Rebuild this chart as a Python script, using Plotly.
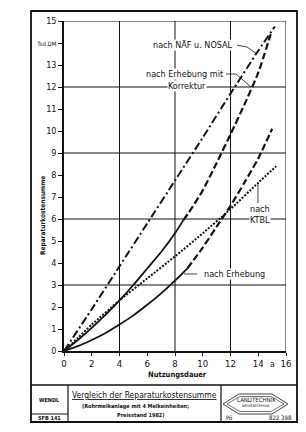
import plotly.graph_objects as go

# ---------------- data ----------------
nosal_x = [0, 2, 4, 6, 8, 10, 12, 14, 15.2]
nosal_y = [0, 1.9, 3.85, 5.8, 7.75, 9.7, 11.7, 13.65, 14.75]

korr_solid_x = [0, 1, 2, 3, 4, 5, 6, 7, 8, 8.6]
korr_solid_y = [0, 0.5, 1.05, 1.65, 2.3, 3.0, 3.75, 4.5, 5.35, 5.95]
korr_dash_x = [8.6, 9, 10, 11, 12, 13, 14, 14.9]
korr_dash_y = [5.95, 6.3, 7.3, 8.55, 9.85, 11.2, 12.65, 14.4]

ktbl_x = [0, 1, 2, 4, 6, 8, 10, 12, 14, 15.3]
ktbl_y = [0, 0.6, 1.2, 2.3, 3.3, 4.3, 5.35, 6.45, 7.65, 8.4]

erh_solid_x = [0, 1, 2, 3, 4, 5, 6, 7, 8, 8.9]
erh_solid_y = [0, 0.22, 0.5, 0.82, 1.2, 1.62, 2.1, 2.62, 3.2, 3.76]
erh_dash_x = [8.9, 10, 11, 12, 13, 14, 15]
erh_dash_y = [3.76, 4.7, 5.65, 6.6, 7.65, 8.75, 10.1]

x_tickvals = [0, 2, 4, 6, 8, 10, 12, 14, 16]
x_ticktext = ["0", "2", "4", "6", "8", "10", "12", "14", "16"]
y_tickvals = list(range(0, 16))
y_ticktext = [str(v) for v in range(0, 14)] + ['<span style="font-size:6px">Tsd.DM</span>', "15"]
grid_x = [4, 8, 12, 16]
grid_y = [3, 6, 9, 12, 15]

FONT = "Liberation Sans Narrow, DejaVu Sans Condensed, Roboto, sans-serif"
INK = "#111111"

W, H = 306, 432
L, R, T, B = 64, 286, 21, 351


def P(px, py):
    return (px - L) / (R - L), (B - py) / (B - T)


fig = go.Figure()

line_specs = [
    (nosal_x, nosal_y, "8px,3px,2px,3px", 2.0),
    (korr_solid_x, korr_solid_y, "solid", 1.8),
    (korr_dash_x, korr_dash_y, "7px,3px", 2.2),
    (ktbl_x, ktbl_y, "2px,1.5px", 2.0),
    (erh_solid_x, erh_solid_y, "solid", 1.8),
    (erh_dash_x, erh_dash_y, "7px,3px", 2.2),
]
for xs, ys, dash, w in line_specs:
    fig.add_trace(go.Scatter(x=xs, y=ys, mode="lines",
                             line=dict(color=INK, width=w, dash=dash, shape="spline", smoothing=0.6),
                             showlegend=False, hoverinfo="skip"))

shapes = []
# grid lines
for gx in grid_x:
    shapes.append(dict(type="line", xref="x", yref="y", x0=gx, x1=gx, y0=0, y1=15,
                       line=dict(color=INK, width=1), layer="below"))
for gy in grid_y:
    shapes.append(dict(type="line", xref="x", yref="y", x0=0, x1=16, y0=gy, y1=gy,
                       line=dict(color=INK, width=1), layer="below"))

# leader lines (data coordinates)
leaders = [
    [(12.47, 13.9), (13.19, 13.82), (13.9, 13.5)],
    [(11.68, 12.59), (12.4, 12.59), (13.48, 12.0)],
    [(13.98, 6.73), (13.98, 7.64)],
    [(8.65, 3.5), (9.6, 3.5)],
]
for pts in leaders:
    path = "M " + " L ".join(f"{a},{b}" for a, b in pts)
    shapes.append(dict(type="path", xref="x", yref="y", path=path, line=dict(color=INK, width=0.8)))


def pline(x0, y0, x1, y1, w=1.2):
    a, b = P(x0, y0)
    c, d = P(x1, y1)
    shapes.append(dict(type="line", xref="paper", yref="paper", x0=a, y0=b, x1=c, y1=d,
                       line=dict(color=INK, width=w)))


def prect(x0, y0, x1, y1, w=1.6):
    a, b = P(x0, y0)
    c, d = P(x1, y1)
    shapes.append(dict(type="rect", xref="paper", yref="paper", x0=a, y0=b, x1=c, y1=d,
                       line=dict(color=INK, width=w)))


prect(31, 11, 297, 422, 1.8)
pline(31, 385, 297, 385, 1.5)
pline(68, 385, 68, 422, 1.2)
pline(221, 385, 221, 422, 1.2)
pline(31, 414, 68, 414, 1.0)


def ppath(pts, w=0.8):
    path = "M " + " L ".join("{:.5f},{:.5f}".format(*P(a, b)) for a, b in pts) + " Z"
    shapes.append(dict(type="path", xref="paper", yref="paper", path=path, line=dict(color=INK, width=w)))


ppath([(223, 404), (239, 394), (272, 394), (288, 404), (272, 414), (239, 414)])
ppath([(227, 404), (240, 396.5), (271, 396.5), (284, 404), (271, 411.5), (240, 411.5)], 0.6)

annotations = []


def ptext(px, py, text, size, xanchor="center", bg=None, angle=0):
    a, b = P(px, py)
    d = dict(xref="paper", yref="paper", x=a, y=b, text=text, showarrow=False,
             font=dict(family=FONT, size=size, color=INK), xanchor=xanchor, yanchor="middle",
             textangle=angle)
    if bg:
        d.update(bgcolor=bg, borderpad=0)
    annotations.append(d)


# curve labels
ptext(193, 45, "nach NÄF u. NOSAL", 9, bg="white")
ptext(184, 74, "nach Erhebung mit", 9, bg="white")
ptext(187, 86, "Korrektur", 9, bg="white")
ptext(260, 209, "nach", 9, bg="white")
ptext(260, 220, "KTBL", 9, bg="white")
ptext(234, 274, "nach Erhebung", 9, bg="white")

# axis titles
ptext(43, 216, "<b>Reparaturkostensumme</b>", 6.5, angle=-90)
ptext(177, 374, "<b>Nutzungsdauer</b>", 7.5)
ptext(272, 363.5, "a", 8.5)

# title block
ptext(49, 400, "<b>WENDL</b>", 5.5)
ptext(49, 418, "<b>SFB 141</b>", 5.5)
ptext(144, 395, "<u>Vergleich der Reparaturkostensumme</u>", 8.5)
ptext(135, 406, "<b>(Rohrmelkanlage mit 4 Melkeinheiten;</b>", 5.5)
ptext(141, 415, "<b>Preisstand 1982)</b>", 5.5)
ptext(256, 399.5, "LANDTECHNIK", 6)
ptext(256, 406, "WEIHENSTEPHAN", 3.5)
ptext(224, 417, "Pö", 6, xanchor="left")
ptext(294, 417, "822 398", 6, xanchor="right")

fig.update_layout(
    width=W, height=H,
    margin=dict(l=L, r=W - R, t=T, b=H - B, pad=0),
    paper_bgcolor="white", plot_bgcolor="white",
    shapes=shapes, annotations=annotations,
    font=dict(family=FONT, color=INK),
    xaxis=dict(range=[0, 16], tickvals=x_tickvals, ticktext=x_ticktext, showgrid=False, zeroline=False,
               showline=True, linecolor=INK, linewidth=1.5, ticks="outside", ticklen=3, tickcolor=INK,
               tickwidth=1, tickfont=dict(family=FONT, size=9.5, color=INK)),
    yaxis=dict(range=[0, 15], tickvals=y_tickvals, ticktext=y_ticktext, showgrid=False, zeroline=False,
               showline=True, linecolor=INK, linewidth=1.5, ticks="outside", ticklen=4, tickcolor=INK,
               tickwidth=1, tickfont=dict(family=FONT, size=9, color=INK)),
)

fig.write_html("out.html")
